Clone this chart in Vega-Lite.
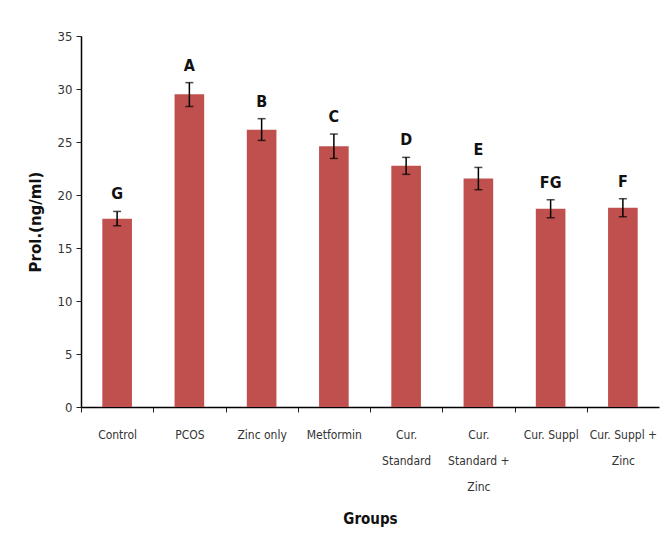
{
  "$schema": "https://vega.github.io/schema/vega-lite/v6.json",
  "autosize": {"type": "none"},
  "padding": {"left": 81, "top": 36, "right": 9, "bottom": 143},
  "width": 578,
  "height": 371,
  "background": "white",
  "config": {
    "view": {"stroke": null},
    "font": "DejaVu Sans Condensed",
    "axis": {"labelFont": "DejaVu Sans Condensed", "titleFont": "DejaVu Sans Condensed"}
  },
  "data": {
    "values": [
      {"group": "Control", "mean": 17.75, "lo": 17.1, "hi": 18.45, "sig": "G"},
      {"group": "PCOS", "mean": 29.5, "lo": 28.35, "hi": 30.6, "sig": "A"},
      {"group": "Zinc only", "mean": 26.15, "lo": 25.15, "hi": 27.2, "sig": "B"},
      {"group": "Metformin", "mean": 24.6, "lo": 23.45, "hi": 25.75, "sig": "C"},
      {"group": "Cur. Standard", "mean": 22.75, "lo": 21.95, "hi": 23.55, "sig": "D"},
      {"group": "Cur. Standard + Zinc", "mean": 21.55, "lo": 20.5, "hi": 22.6, "sig": "E"},
      {"group": "Cur. Suppl", "mean": 18.7, "lo": 17.85, "hi": 19.55, "sig": "FG"},
      {"group": "Cur. Suppl + Zinc", "mean": 18.8, "lo": 17.95, "hi": 19.65, "sig": "F"}
    ]
  },
  "encoding": {
    "x": {
      "field": "group",
      "type": "nominal",
      "sort": null,
      "scale": {"paddingInner": 0.59, "paddingOuter": 0.295},
      "axis": {
        "title": "Groups",
        "titleFontSize": 15,
        "titleFontWeight": "bold",
        "titleColor": "#111",
        "titlePadding": 19,
        "labelAngle": 0,
        "labelFontSize": 12,
        "labelColor": "#333",
        "labelLineHeight": 26,
        "labelPadding": 17,
        "tickOffset": -36,
        "labelOffset": 36,
        "tickSize": 5,
        "tickColor": "#222",
        "domainColor": "#000",
        "domainWidth": 1.5,
        "labelExpr": "datum.label == 'Cur. Standard' ? ['Cur.', 'Standard'] : datum.label == 'Cur. Standard + Zinc' ? ['Cur.', 'Standard +', 'Zinc'] : datum.label == 'Cur. Suppl + Zinc' ? ['Cur. Suppl +', 'Zinc'] : datum.label"
      }
    }
  },
  "layer": [
    {
      "mark": {"type": "bar", "color": "#C0504D"},
      "encoding": {
        "y": {
          "field": "mean",
          "type": "quantitative",
          "scale": {"domain": [0, 35]},
          "axis": {
            "title": "Prol.(ng/ml)",
            "titleFontSize": 15,
            "titleFontWeight": "bold",
            "titleColor": "#111",
            "titleFont": "DejaVu Sans",
            "titlePadding": 14,
            "values": [0, 5, 10, 15, 20, 25, 30, 35],
            "labelFontSize": 13,
            "labelColor": "#333",
            "grid": false,
            "tickSize": 5,
            "tickColor": "#222",
            "domainColor": "#000",
            "domainWidth": 1.5,
            "labelPadding": 4
          }
        }
      }
    },
    {
      "mark": {"type": "rule", "color": "#000", "strokeWidth": 1.5},
      "encoding": {"y": {"field": "lo", "type": "quantitative"}, "y2": {"field": "hi"}}
    },
    {
      "mark": {"type": "tick", "color": "#000", "thickness": 1.5, "size": 8, "orient": "horizontal"},
      "encoding": {"y": {"field": "lo", "type": "quantitative"}}
    },
    {
      "mark": {"type": "tick", "color": "#000", "thickness": 1.5, "size": 8, "orient": "horizontal"},
      "encoding": {"y": {"field": "hi", "type": "quantitative"}}
    },
    {
      "mark": {"type": "text", "fontSize": 16, "fontWeight": "bold", "color": "#111", "baseline": "bottom", "dy": -9, "font": "DejaVu Sans Condensed"},
      "encoding": {"y": {"field": "hi", "type": "quantitative"}, "text": {"field": "sig"}}
    }
  ]
}
